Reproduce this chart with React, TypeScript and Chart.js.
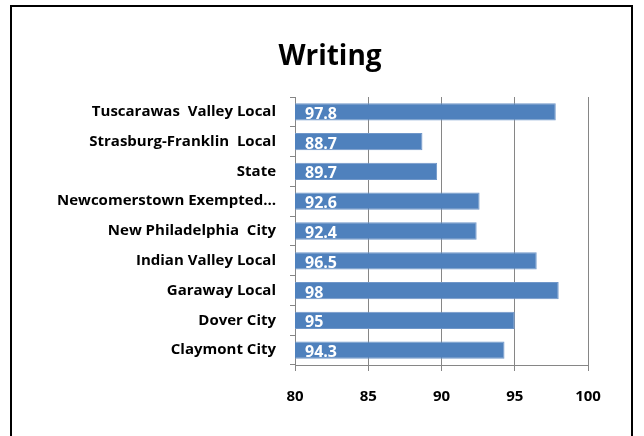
import React, { useEffect, useRef } from "react";
import { Chart, registerables } from "chart.js";

Chart.register(...registerables);

const title = "Writing";
const categories = [
  "Tuscarawas  Valley Local",
  "Strasburg-Franklin  Local",
  "State",
  "Newcomerstown Exempted…",
  "New Philadelphia  City",
  "Indian Valley Local",
  "Garaway Local",
  "Dover City",
  "Claymont City",
];
const values = [97.8, 88.7, 89.7, 92.6, 92.4, 96.5, 98, 95, 94.3];
const xMin = 80;
const xMax = 100;
const xStep = 5;

const FONT = "'Open Sans', Lato, sans-serif";

const decorPlugin = {
  id: "decor",
  afterDatasetsDraw(chart: any) {
    const ctx = chart.ctx;
    const meta = chart.getDatasetMeta(0);
    const xs = chart.scales.x;
    ctx.save();
    ctx.fillStyle = "#ffffff";
    ctx.font = `bold 16px ${FONT}`;
    ctx.textAlign = "left";
    ctx.textBaseline = "alphabetic";
    const area = chart.chartArea;
    ctx.beginPath();
    ctx.rect(area.left, area.top, area.right - area.left, area.bottom - area.top);
    ctx.clip();
    meta.data.forEach((bar: any, i: number) => {
      const x0 = xs.getPixelForValue(xMin);
      ctx.fillText(String(values[i]), x0 + 10, bar.y + 7);
    });
    ctx.restore();

    ctx.save();
    ctx.fillStyle = "#000000";
    ctx.font = `bold 28px ${FONT}`;
    ctx.textAlign = "center";
    ctx.textBaseline = "alphabetic";
    ctx.fillText(title, 330, 65);
    ctx.restore();
  },
};

export default function App() {
  const ref = useRef<HTMLCanvasElement | null>(null);
  useEffect(() => {
    if (!ref.current) return;
    const chart = new Chart(ref.current, {
      type: "bar",
      data: {
        labels: categories,
        datasets: [
          {
            data: values,
            backgroundColor: "#4F81BD",
            borderColor: "#7097C9",
            borderWidth: 1,
            barPercentage: 0.58,
            categoryPercentage: 1,
          },
        ],
      },
      options: {
        indexAxis: "y",
        animation: false,
        responsive: true,
        maintainAspectRatio: false,
        layout: { padding: { left: 0, right: 56, top: 97, bottom: 0 } },
        plugins: {
          legend: { display: false },
          title: { display: false },
          tooltip: { enabled: false },
        },
        scales: {
          x: {
            min: xMin,
            max: xMax,
            afterFit: (s: any) => {
              s.height = 71;
            },
            ticks: {
              stepSize: xStep,
              color: "#000",
              font: { family: FONT, size: 15, weight: "bold" },
              padding: 17,
            },
            grid: {
              color: "#868686",
              lineWidth: 1,
              tickLength: 6,
            },
            border: { color: "#868686", width: 1 },
          },
          y: {
            afterFit: (s: any) => {
              s.width = 295;
            },
            ticks: {
              color: "#000",
              font: { family: FONT, size: 15, weight: "bold" },
              padding: 14,
              autoSkip: false,
            },
            grid: {
              drawOnChartArea: false,
              color: "#868686",
              tickLength: 5,
              offset: true,
            },
            border: { color: "#868686", width: 1 },
          },
        },
      },
      plugins: [decorPlugin],
    });
    return () => chart.destroy();
  }, []);

  return (
    <div
      style={{
        position: "fixed",
        left: 0,
        top: 0,
        width: 644,
        height: 436,
        overflow: "hidden",
        background: "#fff",
      }}
    >
      <canvas ref={ref} style={{ width: "644px", height: "436px", display: "block" }} />
      <div
        style={{
          position: "absolute",
          left: 10,
          top: 5,
          width: 623,
          height: 480,
          border: "2px solid #000",
          boxSizing: "border-box",
          pointerEvents: "none",
        }}
      />
    </div>
  );
}
